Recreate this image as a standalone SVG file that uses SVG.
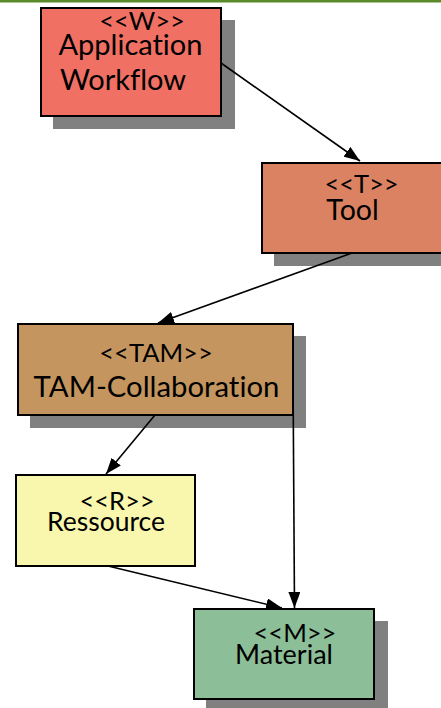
<svg xmlns="http://www.w3.org/2000/svg" width="441" height="708" viewBox="0 0 441 708">
<style>
.box{stroke:#000;stroke-width:2}
.sh{fill:#808080}
.t{font-family:Lato,"Liberation Sans",sans-serif;fill:#000;text-anchor:middle;font-variant-ligatures:none}
.s{font-size:25.5px}
.c{stroke:#000;stroke-width:1.6;fill:none;marker-end:url(#ah)}
</style>
<defs>
<marker id="ah" markerUnits="userSpaceOnUse" markerWidth="16" markerHeight="12" viewBox="0 0 16 12" refX="16" refY="6" orient="auto">
<path d="M0,0 L16,6 L0,12 Z" fill="#000"/>
</marker>
</defs>
<rect x="0" y="0" width="441" height="2.5" fill="#5b8a2a"/>
<g id="n-W">
<rect class="sh" x="53" y="20" width="182" height="109"/>
<rect class="box" x="41" y="8" width="180" height="108" fill="#f07064"/>
<text class="t"><tspan class="s" x="142" y="30">&lt;&lt;W&gt;&gt;</tspan><tspan x="130.5" y="55" font-size="29">Application</tspan><tspan x="123" y="90" font-size="29">Workflow</tspan></text>
</g>
<g id="n-T">
<rect class="sh" x="274" y="176" width="180" height="90"/>
<rect class="box" x="262" y="163" width="180" height="90" fill="#da8262"/>
<text class="t"><tspan class="s" x="361.5" y="193">&lt;&lt;T&gt;&gt;</tspan><tspan x="352.5" y="220" font-size="28.5">Tool</tspan></text>
</g>
<g id="n-TAM">
<rect class="sh" x="30" y="336" width="276" height="92"/>
<rect class="box" x="18" y="324" width="275" height="91" fill="#c4955e"/>
<text class="t"><tspan class="s" x="156" y="362">&lt;&lt;TAM&gt;&gt;</tspan><tspan x="156.5" y="396.5" font-size="29.3">TAM-Collaboration</tspan></text>
</g>
<g id="n-R">
<rect class="box" x="16" y="475" width="179" height="91" fill="#f9f7ad"/>
<text class="t"><tspan class="s" x="117" y="510">&lt;&lt;R&gt;&gt;</tspan><tspan x="106" y="530.5" font-size="26.5">Ressource</tspan></text>
</g>
<g id="n-M">
<rect class="sh" x="206" y="621" width="182" height="92"/>
<rect class="box" x="194" y="609" width="180" height="90" fill="#8cbf98"/>
<text class="t"><tspan class="s" x="295" y="642">&lt;&lt;M&gt;&gt;</tspan><tspan x="284" y="663.5" font-size="27">Material</tspan></text>
</g>
<g id="connectors">
<line class="c" x1="221" y1="63" x2="360" y2="161"/>
<line class="c" x1="352" y1="253" x2="158" y2="323"/>
<line class="c" x1="155" y1="415" x2="106" y2="474"/>
<line class="c" x1="293" y1="372" x2="294.5" y2="608"/>
<line class="c" x1="108" y1="566" x2="282" y2="608"/>
</g>
</svg>
